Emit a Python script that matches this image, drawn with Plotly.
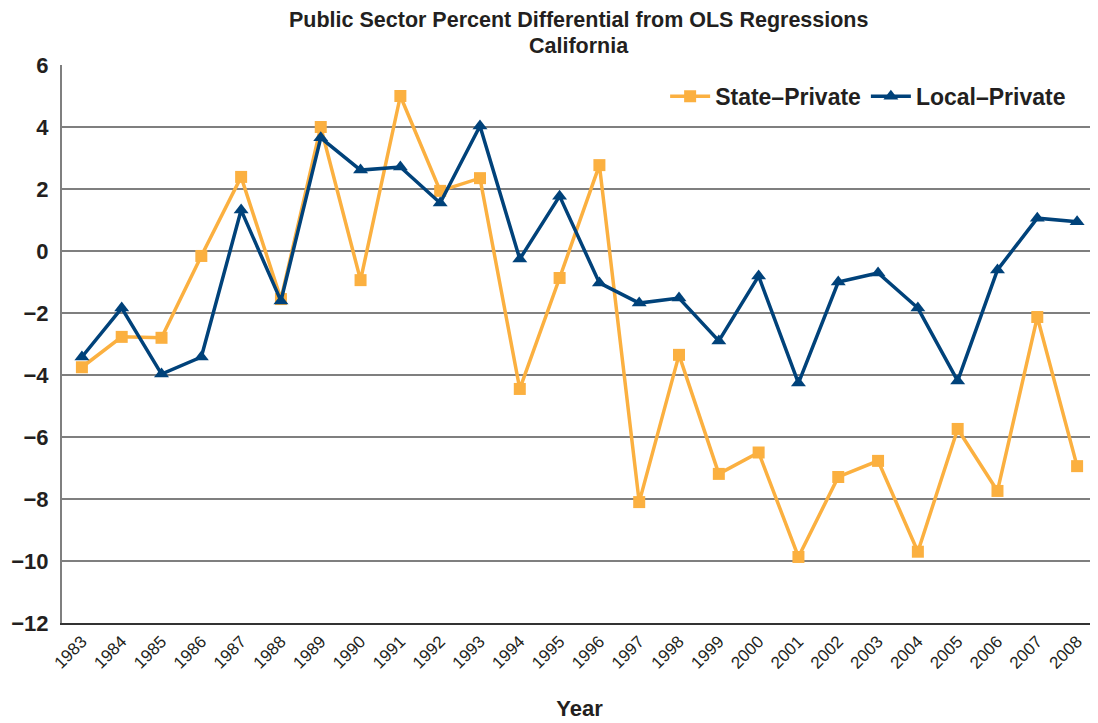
import plotly.graph_objects as go

years = [str(y) for y in range(1983, 2009)]
state_private = [-3.75, -2.77, -2.8, -0.16, 2.39, -1.55, 4.0, -0.94, 5.0, 1.94, 2.35, -4.45, -0.87, 2.77,
                 -8.1, -3.35, -7.19, -6.5, -9.87, -7.29, -6.77, -9.7, -5.74, -7.74, -2.13, -6.94]
local_private = [-3.42, -1.84, -3.97, -3.42, 1.32, -1.61, 3.65, 2.61, 2.71, 1.55, 4.03, -0.26, 1.77, -1.03,
                 -1.68, -1.52, -2.9, -0.81, -4.26, -1.0, -0.71, -1.84, -4.19, -0.61, 1.06, 0.94]
y_ticks = [6, 4, 2, 0, -2, -4, -6, -8, -10, -12]
y_labels = ["6", "4", "2", "0", "\u22122", "\u22124", "\u22126", "\u22128", "\u221210", "\u221212"]
title_lines = ["Public Sector Percent Differential from OLS Regressions", "California"]

ORANGE = "#FBB040"
NAVY = "#00427A"
TXT = "#231F20"
SANS = "Liberation Sans, Arial, sans-serif"

fig = go.Figure()
fig.add_trace(go.Scatter(x=years, y=state_private, name="State\u2013Private", mode="lines+markers",
                         line=dict(color=ORANGE, width=3.5), marker=dict(symbol="square", size=12, color=ORANGE)))
fig.add_trace(go.Scatter(x=years, y=local_private, name="Local\u2013Private", mode="lines+markers",
                         line=dict(color=NAVY, width=3.5), marker=dict(symbol="triangle-up", size=13, color=NAVY)))

for i, line in enumerate(title_lines):
    fig.add_annotation(text="<b>" + line + "</b>", xref="paper", yref="paper",
                       x=0.4995, y=1.0 + (45 - 26 * i) / 558.0, xanchor="center", yanchor="middle",
                       showarrow=False, borderpad=0, font=dict(family=SANS, size=21.5, color=TXT))

fig.update_layout(
    width=1090, height=715,
    paper_bgcolor="white", plot_bgcolor="white",
    margin=dict(l=54, r=1, t=57, b=100),
    showlegend=True,
    legend=dict(orientation="h", x=0.975, xanchor="right", y=0.944, yanchor="middle",
                font=dict(family=SANS, size=23, color=TXT, weight="bold"),
                bgcolor="rgba(0,0,0,0)", traceorder="normal", itemwidth=40),
    xaxis=dict(type="category", range=[-0.5, 25.5], tickangle=-45, showgrid=False,
               tickfont=dict(family=SANS, size=17, color=TXT),
               showline=True, linecolor="#333333", linewidth=2, ticks="",
               title=dict(text="<b>Year</b>", font=dict(family=SANS, size=22, color=TXT), standoff=29)),
    yaxis=dict(range=[-12, 6], tickvals=y_ticks, ticktext=y_labels, showgrid=True,
               gridcolor="#7F7F7F", gridwidth=1.5, zeroline=False, automargin=False,
               showline=True, linecolor="#7F7F7F", linewidth=2,
               tickfont=dict(family=SANS, size=22, color=TXT, weight="bold"),
               ticks="", ticklabelstandoff=7),
)
fig.write_html("out.html")
